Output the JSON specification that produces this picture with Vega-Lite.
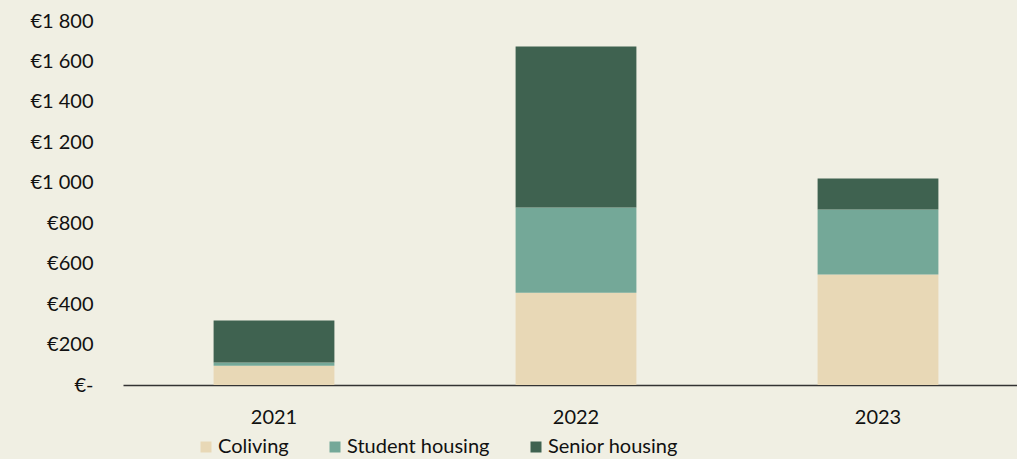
{
  "$schema": "https://vega.github.io/schema/vega-lite/v6.json",
  "autosize": {"type": "none"},
  "padding": {"left": 123, "top": 21, "right": 0, "bottom": 74},
  "width": 906,
  "height": 364,
  "background": "#F0EFE3",
  "config": {
    "view": {"stroke": null},
    "font": "Lato",
    "axis": {"labelFont": "Lato", "labelFontSize": 20, "labelColor": "#111111"},
    "legend": {"labelFont": "Lato", "labelFontSize": 20, "labelColor": "#111111"}
  },
  "data": {
    "values": [
      {"year": "2021", "segment": "Coliving", "value": 95},
      {"year": "2021", "segment": "Student housing", "value": 16},
      {"year": "2021", "segment": "Senior housing", "value": 208},
      {"year": "2022", "segment": "Coliving", "value": 456},
      {"year": "2022", "segment": "Student housing", "value": 422},
      {"year": "2022", "segment": "Senior housing", "value": 796},
      {"year": "2023", "segment": "Coliving", "value": 546},
      {"year": "2023", "segment": "Student housing", "value": 322},
      {"year": "2023", "segment": "Senior housing", "value": 153}
    ]
  },
  "transform": [
    {"calculate": "indexof(['Coliving','Student housing','Senior housing'], datum.segment)", "as": "ord"}
  ],
  "mark": {"type": "bar"},
  "encoding": {
    "x": {
      "field": "year", "type": "nominal",
      "scale": {"paddingInner": 0.6, "paddingOuter": 0.3},
      "axis": {"title": null, "labelAngle": 0, "ticks": false, "domainColor": "#333333", "domainWidth": 1.5, "labelPadding": 22}
    },
    "y": {
      "field": "value", "type": "quantitative", "stack": "zero",
      "scale": {"domain": [0, 1800], "nice": false},
      "axis": {
        "title": null, "values": [0,200,400,600,800,1000,1200,1400,1600,1800],
        "grid": false, "ticks": false, "domain": false, "labelPadding": 30,
        "labelExpr": "datum.value == 0 ? '€-' : '€' + replace(format(datum.value, ','), ',', ' ')"
      }
    },
    "color": {
      "field": "segment", "type": "nominal",
      "scale": {"domain": ["Coliving", "Student housing", "Senior housing"], "range": ["#E8D8B6", "#74A898", "#3F6250"]},
      "legend": {
        "title": null, "orient": "none", "direction": "horizontal",
        "legendX": 73, "legendY": 416,
        "symbolType": "square", "symbolSize": 121, "symbolStrokeWidth": 0,
        "labelOffset": 2, "columnPadding": 36
      }
    },
    "order": {"field": "ord", "type": "quantitative"}
  }
}
